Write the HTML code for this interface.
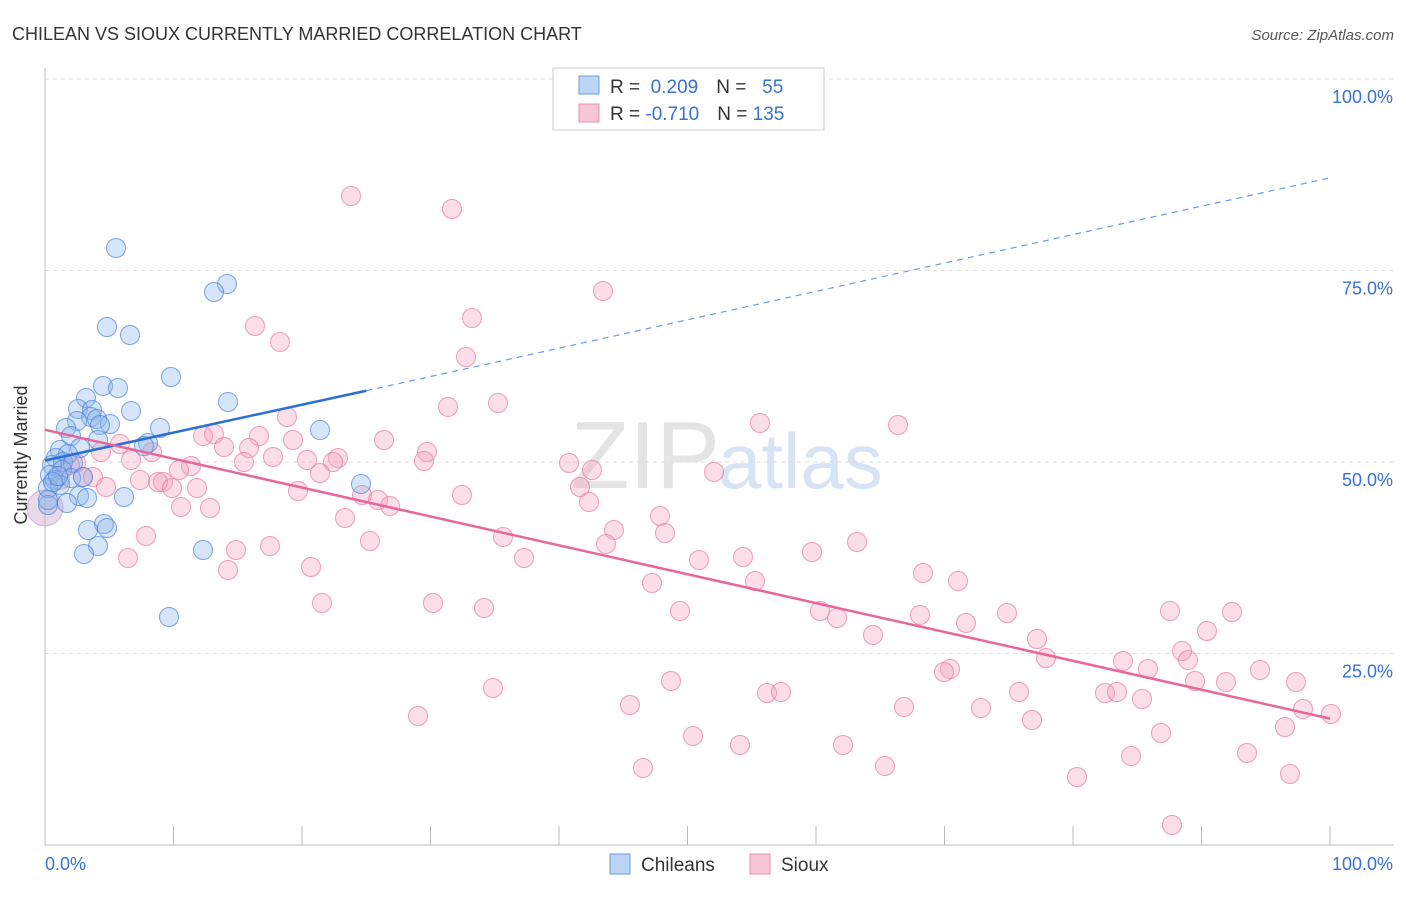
<!DOCTYPE html>
<html><head><meta charset="utf-8"><style>
body{margin:0;background:#fff;font-family:"Liberation Sans",sans-serif}
svg text{font-family:"Liberation Sans",sans-serif}
</style></head><body>
<svg id="c" width="1406" height="892">
<text x="12" y="40" font-size="18" fill="#333">CHILEAN VS SIOUX CURRENTLY MARRIED CORRELATION CHART</text>
<text x="1394" y="40" font-size="15" fill="#555" text-anchor="end" font-style="italic">Source: ZipAtlas.com</text>
<text x="720" y="488" font-size="96" fill="#e4e4e4" text-anchor="end" font-family="Liberation Serif">ZIP</text>
<text x="718" y="488" font-size="78" fill="#d6e4f5">atlas</text>
<g id="grid"></g><g id="pts"></g><g id="lines"></g>
<text x="27" y="455" font-size="18" fill="#333" text-anchor="middle" transform="rotate(-90 27 455)">Currently Married</text>
<g>
<rect x="553" y="68" width="271" height="62" fill="#fff" stroke="#ccc"/>
<rect x="579" y="76" width="20" height="18" fill="#bcd5f5" stroke="#6a9ee0"/>
<rect x="579" y="104" width="20" height="18" fill="#f8c6d6" stroke="#e890ad"/>
<text x="610" y="93" font-size="19" fill="#333">R = <tspan fill="#3572d4">&#160;0.209</tspan><tspan dx="18">N = </tspan><tspan fill="#3572d4">&#160; 55</tspan></text>
<text x="610" y="120" font-size="19" fill="#333">R = <tspan fill="#3572d4">-0.710</tspan><tspan dx="18">N = </tspan><tspan fill="#3572d4">135</tspan></text>
</g>
<g>
<rect x="610" y="854" width="20" height="20" fill="#bcd5f5" stroke="#6a9ee0"/>
<text x="641" y="871" font-size="19" fill="#333">Chileans</text>
<rect x="750" y="854" width="20" height="20" fill="#f8c6d6" stroke="#e890ad"/>
<text x="781" y="871" font-size="19" fill="#333">Sioux</text>
</g>
</svg>
<script>
const xTickVals=[0,10,20,30,40,50,60,70,80,90,100];
const yTickVals=[25,50,75,100];
const yTickLabels=["25.0%","50.0%","75.0%","100.0%"];
const blueTrend=[[0,50.2],[25,59.3],[100,87.1]];
const pinkTrend=[[0,54.2],[100,16.5]];
const bluePx=[[116,248],[227,284],[214,292],[107,327],[130,335],[171,377],[103,386],[118,388],[228,402],[86,398],[78,409],[131,411],[92,410],[91,417],[97,419],[110,424],[77,421],[100,425],[160,428],[66,428],[320,430],[71,436],[98,440],[148,443],[144,446],[60,450],[80,448],[68,454],[56,458],[63,462],[52,465],[73,463],[62,470],[50,475],[55,480],[71,478],[83,477],[48,488],[60,485],[361,484],[79,496],[87,498],[124,497],[67,503],[48,505],[104,524],[88,530],[107,528],[98,546],[203,550],[84,554],[169,617],[48,500],[53,482],[58,476]];
const pinkPx=[[351,196],[452,209],[603,291],[255,326],[280,342],[472,318],[466,357],[448,407],[498,403],[287,417],[760,423],[898,425],[214,434],[203,436],[259,436],[293,440],[384,440],[120,444],[224,447],[152,452],[427,452],[249,448],[101,452],[273,457],[307,460],[338,458],[131,460],[244,462],[424,461],[569,463],[333,462],[76,463],[191,466],[179,470],[320,473],[714,472],[592,470],[83,477],[93,477],[140,480],[163,482],[158,482],[172,488],[197,488],[106,487],[580,487],[298,491],[462,495],[362,495],[378,500],[589,502],[390,506],[181,507],[210,508],[345,518],[660,516],[614,530],[503,537],[665,533],[146,536],[370,541],[606,544],[857,542],[236,550],[270,546],[128,558],[524,558],[699,560],[743,557],[812,552],[311,567],[228,570],[923,573],[755,581],[958,581],[652,583],[322,603],[433,603],[484,608],[680,611],[820,611],[837,618],[920,615],[1007,613],[1170,611],[1232,612],[966,623],[873,635],[1207,631],[1037,639],[1182,651],[1046,658],[1188,660],[1123,661],[1148,669],[950,669],[944,672],[1260,670],[671,681],[1296,682],[493,688],[1195,681],[1226,682],[767,693],[781,692],[1019,692],[1105,693],[1117,692],[1142,699],[630,705],[904,707],[981,708],[1303,709],[1331,714],[418,716],[1032,720],[1285,727],[1161,733],[693,736],[740,745],[843,745],[1131,756],[1247,753],[643,768],[885,766],[1077,777],[1290,774],[1172,825],[60,480],[70,465]];
// convert read pixel positions into data values (x %, y %)
const blueX=bluePx.map(p=>(p[0]-45)/12.85), blueY=bluePx.map(p=>(845-p[1])/7.66);
const pinkX=pinkPx.map(p=>(p[0]-45)/12.85), pinkY=pinkPx.map(p=>(845-p[1])/7.66);
const sx=v=>45+v*12.85, sy=v=>845-v*7.66;
const NS="http://www.w3.org/2000/svg";
function mk(t,a,p){const e=document.createElementNS(NS,t);for(const k in a)e.setAttribute(k,a[k]);p.appendChild(e);return e;}
const grid=document.getElementById('grid');
yTickVals.forEach((v,i)=>{
 const l=mk('line',{x1:45,x2:1394,y1:sy(v),y2:sy(v),stroke:'#ddd','stroke-dasharray':'4,4'},grid);
 
 
 const t=mk('text',{x:1393,y:sy(v)+24,'font-size':18,fill:'#3572d4','text-anchor':'end'},grid);
 t.textContent=yTickLabels[i];
 
 
});
const ax=mk('line',{x1:45,x2:45,y1:68,y2:845,stroke:'#bbb'},grid);


const bx=mk('line',{x1:45,x2:1394,y1:845,y2:845,stroke:'#bbb'},grid);


xTickVals.forEach(v=>{const l=mk('line',{x1:sx(v),x2:sx(v),y1:826,y2:845,stroke:'#bbb'},grid);
 
 });
[["0.0%",45,'start'],["100.0%",1393,'end']].forEach(a=>{const t=mk('text',{x:a[1],y:870,'font-size':18,fill:'#3572d4','text-anchor':a[2]},grid);t.textContent=a[0];
 
 });
const pts=document.getElementById('pts');
const bg=mk('circle',{cx:sx(0),cy:sy(44),r:18,fill:'rgba(200,160,200,0.4)',stroke:'rgba(180,140,200,0.6)'},pts);


pinkX.forEach((x,i)=>{const c=mk('circle',{cx:sx(x),cy:sy(pinkY[i]),r:9.5,fill:'rgba(244,160,188,0.35)',stroke:'rgba(232,120,160,0.7)'},pts);
 
 });
blueX.forEach((x,i)=>{const c=mk('circle',{cx:sx(x),cy:sy(blueY[i]),r:9.5,fill:'rgba(140,180,235,0.35)',stroke:'rgba(70,130,220,0.7)'},pts);
 
 });
const lines=document.getElementById('lines');
const b1=mk('line',{x1:sx(blueTrend[0][0]),y1:sy(blueTrend[0][1]),x2:sx(blueTrend[1][0]),y2:sy(blueTrend[1][1]),stroke:'#2a6fd6','stroke-width':2.5},lines);


const b2=mk('line',{x1:sx(blueTrend[1][0]),y1:sy(blueTrend[1][1]),x2:sx(blueTrend[2][0]),y2:sy(blueTrend[2][1]),stroke:'#6a9ee0','stroke-width':1.2,'stroke-dasharray':'6,5'},lines);


const p1=mk('line',{x1:sx(pinkTrend[0][0]),y1:sy(pinkTrend[0][1]),x2:sx(pinkTrend[1][0]),y2:sy(pinkTrend[1][1]),stroke:'#e8669a','stroke-width':2.5},lines);


</script>
</body></html>
